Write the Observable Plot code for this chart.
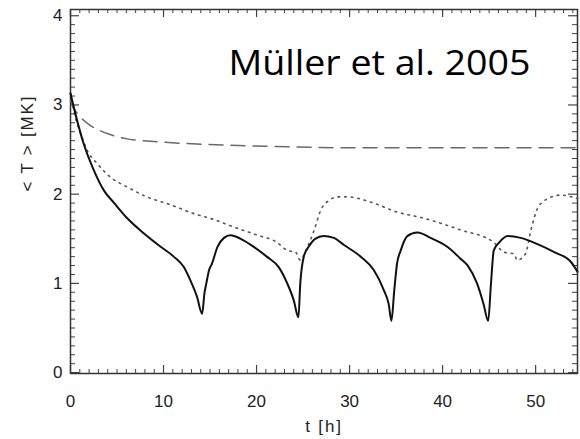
<!DOCTYPE html>
<html><head><meta charset="utf-8">
<script src="https://cdn.jsdelivr.net/npm/d3@7"></script>
<script src="https://cdn.jsdelivr.net/npm/@observablehq/plot@0.6"></script>
<style>body{margin:0;background:#fff}</style>
</head><body><div id="chart"></div>
<script>
const title = "Müller et al. 2005";
const xLabel = "t [h]";
const yLabel = "< T > [MK]";
const xTicks = [0, 10, 20, 30, 40, 50];
const yTicks = [0, 1, 2, 3, 4];
const xMinor = d3.range(0, 55).filter(v => v % 10 !== 0);
const yMinor = d3.range(0, 41).map(v => v / 10).filter((v, i) => i % 10 !== 0);

const solidT = [0, 0.7, 1.4, 2.5, 3.6, 4.7, 6.1, 7.9, 9.7, 11.1, 12.2, 12.9, 13.6, 14.15, 14.4, 14.6, 14.9, 15.2, 15.8, 16.5, 17.2, 18.3, 19.7, 21.1, 22.4, 23.3, 24.0, 24.5, 24.7, 25.1, 25.6, 26.3, 27.2, 28.3, 29.4, 31.2, 32.6, 33.7, 34.2, 34.5, 34.8, 35.1, 35.5, 36.2, 37.3, 38.7, 40.5, 41.9, 42.7, 43.7, 44.4, 44.9, 45.2, 45.5, 46.1, 47.0, 48.4, 50.2, 52.0, 53.8, 54.5];
const solidV = [3.13, 2.83, 2.57, 2.27, 2.04, 1.90, 1.73, 1.56, 1.41, 1.30, 1.18, 1.03, 0.85, 0.66, 0.89, 1.00, 1.15, 1.22, 1.41, 1.51, 1.54, 1.50, 1.41, 1.30, 1.18, 1.00, 0.81, 0.62, 1.00, 1.31, 1.41, 1.50, 1.53, 1.51, 1.43, 1.30, 1.15, 0.92, 0.77, 0.58, 0.92, 1.22, 1.37, 1.53, 1.57, 1.51, 1.41, 1.28, 1.20, 1.00, 0.77, 0.58, 1.00, 1.37, 1.46, 1.53, 1.51, 1.44, 1.35, 1.24, 1.13];

const dotT = [0, 0.5, 1.1, 1.8, 2.9, 4.3, 6.1, 8.2, 10.8, 13.3, 15.0, 17.6, 20.1, 22.2, 23.3, 24.2, 24.7, 25.3, 26.2, 26.9, 27.8, 28.8, 29.8, 32.3, 35.1, 38.0, 41.9, 45.5, 46.6, 47.7, 48.0, 48.9, 49.5, 50.2, 51.3, 52.7, 54.5];
const dotV = [3.13, 2.87, 2.68, 2.49, 2.34, 2.19, 2.08, 1.97, 1.88, 1.78, 1.73, 1.63, 1.54, 1.46, 1.37, 1.35, 1.26, 1.37, 1.60, 1.82, 1.93, 1.97, 1.97, 1.91, 1.80, 1.73, 1.60, 1.46, 1.35, 1.33, 1.26, 1.33, 1.60, 1.84, 1.95, 1.99, 1.95];

const dashT = [0, 0.5, 1.1, 2.0, 3.2, 4.5, 6.1, 9.0, 14.0, 20.0, 30.0, 40.0, 54.5];
const dashV = [3.05, 2.94, 2.86, 2.78, 2.71, 2.66, 2.62, 2.59, 2.56, 2.54, 2.52, 2.52, 2.52];

const W = 580, H = 439, mL = 70, mR = 3, mT = 9, mB = 66;
const pw = W - mL - mR, ph = H - mT - mB;
const zip = (t, v) => t.map((x, i) => ({x, y: v[i]}));
const tickCol = "#444";
const font = "'Liberation Sans', Arial, sans-serif";

const chart = Plot.plot({
  width: W, height: H,
  marginLeft: mL, marginRight: mR, marginTop: mT, marginBottom: mB,
  style: {fontFamily: font, background: "#fff", overflow: "visible"},
  x: {domain: [0, 54.5]},
  y: {domain: [-0.01, 4.07]},
  marks: [
    Plot.axisX(xTicks, {tickSize: 0, tickPadding: 21, fontSize: 17, fill: "#222", label: null, tickFormat: d3.format("d")}),
    Plot.axisY(yTicks, {tickSize: 0, tickPadding: 8, fontSize: 17, fill: "#222", label: null, tickFormat: d3.format("d")}),
    Plot.tickX(xTicks, {x: d => d, insetTop: ph - 8, stroke: tickCol, strokeWidth: 1.2}),
    Plot.tickX(xMinor, {x: d => d, insetTop: ph - 4, stroke: tickCol, strokeWidth: 1}),
    Plot.tickX(xTicks, {x: d => d, insetBottom: ph - 8, stroke: tickCol, strokeWidth: 1.2}),
    Plot.tickX(xMinor, {x: d => d, insetBottom: ph - 4, stroke: tickCol, strokeWidth: 1}),
    Plot.tickY(yTicks, {y: d => d, insetRight: pw - 9, stroke: tickCol, strokeWidth: 1.2}),
    Plot.tickY(yMinor, {y: d => d, insetRight: pw - 5, stroke: tickCol, strokeWidth: 1}),
    Plot.tickY(yTicks, {y: d => d, insetLeft: pw - 9, stroke: tickCol, strokeWidth: 1.2}),
    Plot.tickY(yMinor, {y: d => d, insetLeft: pw - 5, stroke: tickCol, strokeWidth: 1}),
    Plot.frame({stroke: "#333", strokeWidth: 1.5}),
    Plot.line(zip(dashT, dashV), {x: "x", y: "y", stroke: "#6a6a6a", strokeWidth: 1.5, strokeDasharray: "14,8", curve: "monotone-x"}),
    Plot.line(zip(dotT, dotV), {x: "x", y: "y", stroke: "#555", strokeWidth: 1.6, strokeDasharray: "1.6,5", curve: "monotone-x"}),
    Plot.line(zip(solidT, solidV), {x: "x", y: "y", stroke: "#111", strokeWidth: 2, curve: "monotone-x"}),
    Plot.text([title], {frameAnchor: "top-right", dx: -47, dy: 41, lineAnchor: "top", textAnchor: "end", fontSize: 35, fontFamily: "'Open Sans', sans-serif", fill: "#000"}),
    Plot.text([xLabel], {frameAnchor: "bottom", dy: 46, lineAnchor: "top", fontSize: 17, fill: "#222"}),
    Plot.text([yLabel], {frameAnchor: "left", dx: -43, rotate: -90, fontSize: 17, fill: "#222"})
  ]
});
const svg = d3.select(chart);
svg.selectAll("text").filter(function() { return this.textContent === title; })
  .attr("textLength", 302).attr("lengthAdjust", "spacingAndGlyphs");
svg.selectAll("text").filter(function() { return this.textContent === xLabel || this.textContent === yLabel; })
  .style("letter-spacing", "1.8px");
document.getElementById("chart").appendChild(chart);
</script>
</body></html>
